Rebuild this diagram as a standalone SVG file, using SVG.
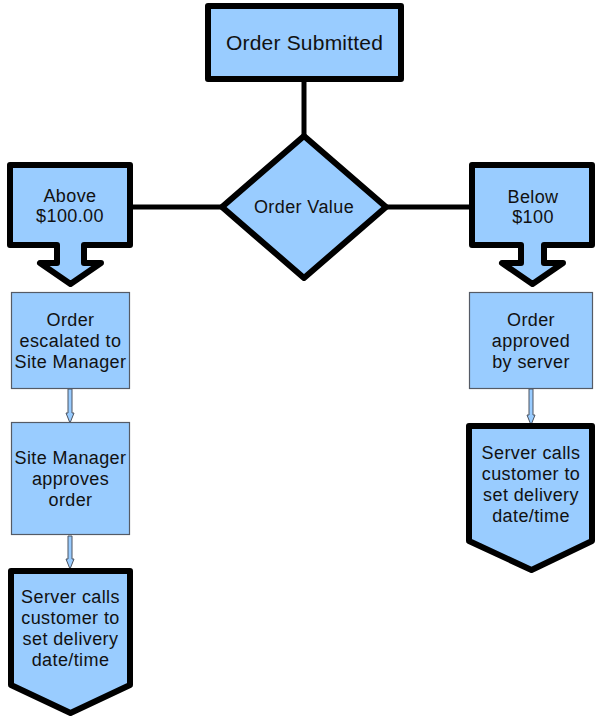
<svg xmlns="http://www.w3.org/2000/svg" width="601" height="719" viewBox="0 0 601 719">
<style>
.thick{fill:#99ccff;stroke:#000;stroke-width:6;stroke-linejoin:round}
.thin{fill:#99ccff;stroke:#555b66;stroke-width:1.2}
.conn{stroke:#000;stroke-width:5;fill:none}
.sarrow{fill:#99ccff;stroke:#4a5260;stroke-width:1}
text{font-family:"Liberation Sans",Arial,sans-serif;font-size:18px;letter-spacing:0.4px;text-anchor:middle;fill:#111}
</style>
<rect width="601" height="719" fill="#fff"/>
<g id="connectors">
<line class="conn" x1="304" y1="80" x2="304" y2="136"/>
<line class="conn" x1="130" y1="207" x2="222" y2="207"/>
<line class="conn" x1="386" y1="207" x2="472" y2="207"/>
<path class="sarrow" d="M68,389 V413 H66 L70,423 L74,413 H72 V389 Z"/>
<path class="sarrow" d="M68,536 V559 H66 L70,569 L74,559 H72 V536 Z"/>
<path class="sarrow" d="M529,389 V415 H527 L531,425 L535,415 H533 V389 Z"/>
</g>
<g id="order-submitted">
<rect class="thick" x="208" y="6" width="193" height="73"/>
<text x="304.5" y="50" style="font-size:21px;letter-spacing:0.2px">Order Submitted</text>
</g>
<g id="order-value">
<polygon class="thick" points="304,136 386,207 304,278 222,207"/>
<text x="304" y="213">Order Value</text>
</g>
<g id="above">
<path class="thick" d="M10,165 H130 V245 H84 V263 H101 L70.5,284 L40,263 H57 V245 H10 Z"/>
<text x="70" y="202">Above</text>
<text x="70" y="222">$100.00</text>
</g>
<g id="below">
<path class="thick" d="M472,165 H592 V245 H544 V263 H563 L532.5,284 L502,263 H521 V245 H472 Z"/>
<text x="533" y="203">Below</text>
<text x="533" y="223">$100</text>
</g>
<g id="escalated">
<rect class="thin" x="11.5" y="292.5" width="118" height="96"/>
<text x="70.5" y="326">Order</text>
<text x="70.5" y="347">escalated to</text>
<text x="70.5" y="368">Site Manager</text>
</g>
<g id="approves">
<rect class="thin" x="11.5" y="422.5" width="118" height="112"/>
<text x="70.5" y="464">Site Manager</text>
<text x="70.5" y="485">approves</text>
<text x="70.5" y="506">order</text>
</g>
<g id="server-calls-left">
<path class="thick" d="M11,571 H130 V685 L70.5,713 L11,685 Z"/>
<text x="70.5" y="603">Server calls</text>
<text x="70.5" y="624">customer to</text>
<text x="70.5" y="645">set delivery</text>
<text x="70.5" y="666">date/time</text>
</g>
<g id="approved">
<rect class="thin" x="469.5" y="292.5" width="123" height="96"/>
<text x="531" y="326">Order</text>
<text x="531" y="347">approved</text>
<text x="531" y="368">by server</text>
</g>
<g id="server-calls-right">
<path class="thick" d="M469,426 H592 V541 L531.5,570 L469,541 Z"/>
<text x="531" y="459">Server calls</text>
<text x="531" y="480">customer to</text>
<text x="531" y="501">set delivery</text>
<text x="531" y="522">date/time</text>
</g>
</svg>
